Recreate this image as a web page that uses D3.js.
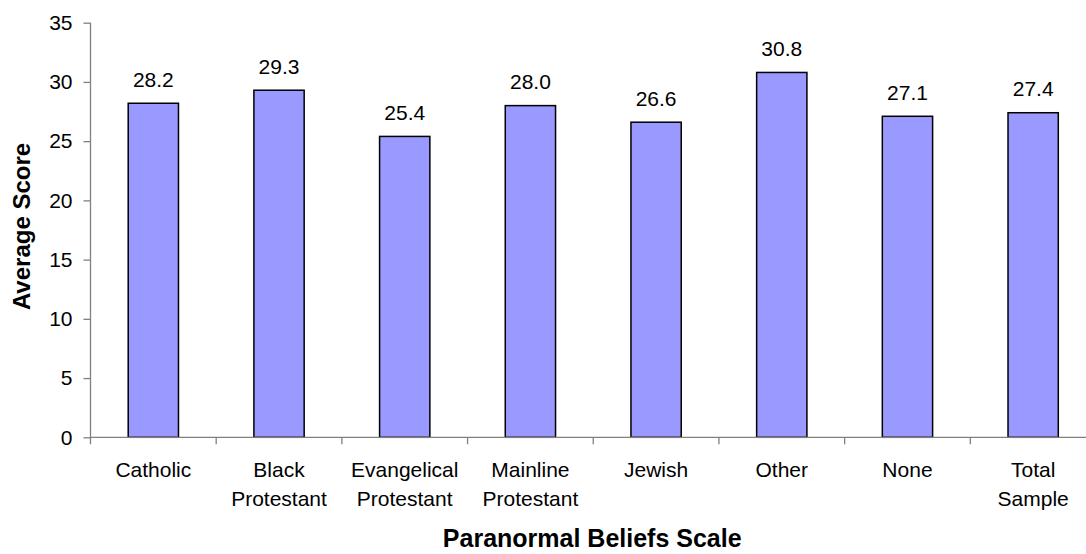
<!DOCTYPE html>
<html>
<head>
<meta charset="utf-8">
<script src="https://cdn.jsdelivr.net/npm/d3@7"></script>
<style>
  html, body { margin: 0; padding: 0; background: #fff; }
  svg { display: block; font-family: "Liberation Sans", Arial, sans-serif; }
</style>
</head>
<body>
<svg id="chart" width="1086" height="554"></svg>
<script>
const categories = [["Catholic"], ["Black", "Protestant"], ["Evangelical", "Protestant"], ["Mainline", "Protestant"], ["Jewish"], ["Other"], ["None"], ["Total", "Sample"]];
const values = [28.2, 29.3, 25.4, 28.0, 26.6, 30.8, 27.1, 27.4];
const yTicks = [0, 5, 10, 15, 20, 25, 30, 35];
const xTitle = "Paranormal Beliefs Scale";
const yTitle = "Average Score";

(function () {
const svg = d3.select("#chart");
const keys = categories.map((c, i) => i);
const plotLeft = 90.5, plotRight = 1096, plotTop = 22.7, plotBottom = 437.3;

const xOuter = d3.scaleBand().domain(keys).range([plotLeft, plotRight]).padding(0);
const x = d3.scaleBand().domain(keys).range([plotLeft, plotRight]).paddingInner(0.6).paddingOuter(0.3);
const y = d3.scaleLinear().domain([0, 35]).range([plotBottom, plotTop]);

const axisColor = "#808080";

// y axis
const yAxis = svg.append("g").attr("transform", `translate(${plotLeft},0)`)
  .call(d3.axisLeft(y).tickValues(yTicks).tickSize(7).tickPadding(11).tickSizeOuter(0));
yAxis.select(".domain").remove();
yAxis.selectAll(".tick line").attr("stroke", axisColor).attr("stroke-width", 1.3);
yAxis.selectAll(".tick text").attr("font-size", 21).attr("fill", "#000")
  .attr("font-family", "Liberation Sans, Arial, sans-serif");
svg.append("line").attr("x1", plotLeft).attr("x2", plotLeft).attr("y1", y(35)).attr("y2", plotBottom + 7)
  .attr("stroke", axisColor).attr("stroke-width", 1.3);

// bars
svg.append("g").selectAll("rect").data(values).join("rect")
  .attr("x", (d, i) => x(i))
  .attr("y", d => y(d))
  .attr("width", x.bandwidth())
  .attr("height", d => y(0) - y(d))
  .attr("fill", "#9999FF")
  .attr("stroke", "#000")
  .attr("stroke-width", 1.5);

// x axis line and ticks
svg.append("line").attr("x1", plotLeft).attr("x2", plotRight).attr("y1", plotBottom).attr("y2", plotBottom)
  .attr("stroke", axisColor).attr("stroke-width", 1.3);
svg.append("g").selectAll("line").data(keys).join("line")
  .attr("x1", i => xOuter(i) + xOuter.step()).attr("x2", i => xOuter(i) + xOuter.step())
  .attr("y1", plotBottom).attr("y2", plotBottom + 7)
  .attr("stroke", axisColor).attr("stroke-width", 1.3);

// value labels
svg.append("g").selectAll("text").data(values).join("text")
  .attr("x", (d, i) => x(i) + x.bandwidth() / 2)
  .attr("y", d => y(d) - 16.5)
  .attr("text-anchor", "middle")
  .attr("font-size", 21)
  .text(d => d.toFixed(1));

// category labels
const catG = svg.append("g").selectAll("text").data(categories).join("text")
  .attr("x", (d, i) => x(i) + x.bandwidth() / 2)
  .attr("y", 477)
  .attr("text-anchor", "middle")
  .attr("font-size", 21);
catG.selectAll("tspan").data(d => d).join("tspan")
  .attr("x", function () { return d3.select(this.parentNode).attr("x"); })
  .attr("dy", (d, j) => j === 0 ? 0 : 29)
  .text(d => d);

// axis titles
svg.append("text")
  .attr("x", (plotLeft + plotRight) / 2 - 1).attr("y", 547)
  .attr("text-anchor", "middle").attr("font-size", 25).attr("font-weight", "bold")
  .text(xTitle);
svg.append("text")
  .attr("transform", `translate(30,${(143 + 310) / 2}) rotate(-90)`)
  .attr("text-anchor", "middle").attr("font-size", 24).attr("font-weight", "bold")
  .text(yTitle);
})();
</script>
</body>
</html>
